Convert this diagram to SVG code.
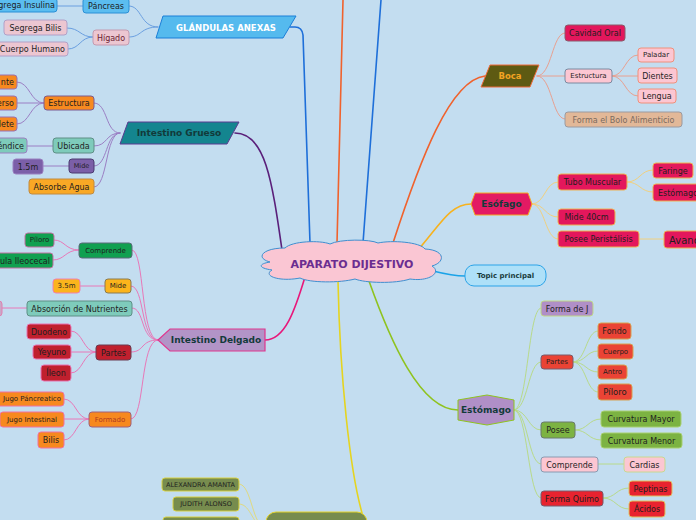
<svg xmlns="http://www.w3.org/2000/svg" width="696" height="520" viewBox="0 0 696 520">
<style>
text{font-family:"DejaVu Sans",Verdana,sans-serif;font-size:8px;fill:#1e1e1e;text-anchor:middle;dominant-baseline:central}
.b{font-weight:bold}
.s{font-size:7px}
.t{font-size:6.5px}
.big{font-size:9px;font-weight:bold;fill:#123a3a}
.main{fill:none;stroke-width:1.6}
.sub{fill:none;stroke-width:1}
rect{stroke-width:1}
</style>
<rect x="0" y="0" width="696" height="520" fill="#c3ddf0"/>

<g id="connectors" stroke-linecap="round">
  <path class="main" stroke="#1e6fd9" d="M310,243 L303,35 Q302,27 295,27 L290,27"/>
  <path class="main" stroke="#f0622d" d="M337,243 L343,0"/>
  <path class="main" stroke="#1e6fd9" d="M363,243 L381,0"/>
  <path class="main" stroke="#f0622d" d="M393,243 C420,160 450,80 485,76"/>
  <path class="main" stroke="#f7b21e" d="M418,250 C440,225 450,204 471,204"/>
  <path class="main" stroke="#1aa3e8" d="M433,271 C445,274 455,276 465,276"/>
  <path class="main" stroke="#8fc31f" d="M369,281 C390,340 420,410 458,410"/>
  <path class="main" stroke="#e5d420" d="M338,281 C340,380 350,470 362,513"/>
  <path class="main" stroke="#e8177a" d="M305,277 C295,310 285,340 265,340"/>
  <path class="main" stroke="#5a1f7a" d="M282,250 C272,180 265,133 235,133"/>

  <g stroke="#6a9fe0">
    <path class="sub" d="M158,27 C140,27 142,6 129,6"/>
    <path class="sub" d="M158,27 C140,27 142,37 129,37"/>
    <path class="sub" d="M83,6 L57,6"/>
    <path class="sub" d="M93,37 C80,37 80,28 67,28"/>
    <path class="sub" d="M93,37 C80,37 80,49 68,49"/>
  </g>
  <g stroke="#9b7fc4">
    <path class="sub" d="M120,133 C105,133 108,103 94,103"/>
    <path class="sub" d="M120,133 C105,133 108,146 94,146"/>
    <path class="sub" d="M120,133 C105,133 108,166 94,166"/>
    <path class="sub" d="M120,133 C105,133 108,187 94,187"/>
    <path class="sub" d="M44,103 C30,103 30,82 17,82"/>
    <path class="sub" d="M44,103 L17,103"/>
    <path class="sub" d="M44,103 C30,103 30,124 17,124"/>
    <path class="sub" d="M53,146 L27,146"/>
    <path class="sub" d="M69,166 L43,166"/>
  </g>
  <g stroke="#e878b8">
    <path class="sub" d="M158,340 C140,340 145,250 132,250"/>
    <path class="sub" d="M158,340 C140,340 145,286 131,286"/>
    <path class="sub" d="M158,340 C140,340 145,308 132,308"/>
    <path class="sub" d="M158,340 C140,340 145,352 131,352"/>
    <path class="sub" d="M158,340 C140,340 145,419 131,419"/>
    <path class="sub" d="M79,250 C65,250 65,240 54,240"/>
    <path class="sub" d="M79,250 C65,250 65,260 53,260"/>
    <path class="sub" d="M105,286 L80,286"/>
    <path class="sub" d="M27,308 L2,308"/>
    <path class="sub" d="M96,352 C83,352 83,331 71,331"/>
    <path class="sub" d="M96,352 L71,352"/>
    <path class="sub" d="M96,352 C83,352 83,373 71,373"/>
    <path class="sub" d="M89,419 C76,419 76,399 64,399"/>
    <path class="sub" d="M89,419 L64,419"/>
    <path class="sub" d="M89,419 C76,419 76,440 64,440"/>
  </g>
  <g stroke="#e8a090">
    <path class="sub" d="M537,76 C552,76 552,33 565,33"/>
    <path class="sub" d="M537,76 L565,76"/>
    <path class="sub" d="M537,76 C552,76 552,119 565,119"/>
    <path class="sub" d="M612,76 C625,76 625,55 638,55"/>
    <path class="sub" d="M612,76 L638,76"/>
    <path class="sub" d="M612,76 C625,76 625,96 638,96"/>
  </g>
  <g stroke="#f0d080">
    <path class="sub" d="M532,204 C545,204 545,182 558,182"/>
    <path class="sub" d="M532,204 C545,204 545,217 558,217"/>
    <path class="sub" d="M532,204 C545,204 545,239 558,239"/>
    <path class="sub" d="M627,182 C640,182 640,170 653,170"/>
    <path class="sub" d="M627,182 C640,182 640,192 653,192"/>
    <path class="sub" d="M639,239 L664,239"/>
  </g>
  <g stroke="#b8da8a">
    <path class="sub" d="M514,410 C528,410 528,308 541,308"/>
    <path class="sub" d="M514,410 C528,410 528,362 541,362"/>
    <path class="sub" d="M514,410 C528,410 528,430 541,430"/>
    <path class="sub" d="M514,410 C528,410 528,464 541,464"/>
    <path class="sub" d="M514,410 C528,410 528,498 541,498"/>
    <path class="sub" d="M573,362 C586,362 586,331 598,331"/>
    <path class="sub" d="M573,362 C586,362 586,351 598,351"/>
    <path class="sub" d="M573,362 C586,362 586,372 598,372"/>
    <path class="sub" d="M573,362 C586,362 586,392 598,392"/>
    <path class="sub" d="M575,430 C588,430 588,419 601,419"/>
    <path class="sub" d="M575,430 C588,430 588,440 601,440"/>
    <path class="sub" d="M598,464 L624,464"/>
    <path class="sub" d="M603,498 C616,498 616,488 629,488"/>
    <path class="sub" d="M603,498 C616,498 616,509 629,509"/>
  </g>
  <g stroke="#e0da80">
    <path class="sub" d="M266,528 C252,528 252,484 239,484"/>
    <path class="sub" d="M266,528 C252,528 252,504 239,504"/>
    <path class="sub" d="M266,528 C252,528 252,524 239,524"/>
  </g>
</g>

<g id="center">
  <path d="M270,262 C255,258 262,248 285,248 C292,241 320,240 330,244 C340,239 370,239 378,243 C392,240 420,242 425,249 C445,250 446,262 432,266 C442,272 430,282 410,279 C395,284 365,283 355,279 C340,283 310,283 300,278 C280,282 262,276 272,270 C258,268 258,264 270,262 Z" fill="#fac6d3" stroke="#3f8fd0" stroke-width="1"/>
  <text x="352" y="264" class="b" style="font-size:11px;fill:#6b2d90">APARATO DIJESTIVO</text>
</g>

<g id="glandulas">
  <polygon points="163,16 296,16 283,38 156,38" fill="#55baee" stroke="#1b7fd8"/>
  <text x="226" y="28" class="b" style="font-size:8.5px;fill:#ffffff">GLÁNDULAS ANEXAS</text>
</g>
<g id="pancreas"><rect x="83" y="-2" width="46" height="15" rx="3" fill="#5bbdf0" stroke="#2a8fd6"/><text x="106" y="6">Páncreas</text></g>
<g id="insulina"><rect x="-10" y="-2" width="67" height="14" rx="3" fill="#5bbdf0" stroke="#2a8fd6"/><text x="55" y="5" style="text-anchor:end">Segrega Insulina</text></g>
<g id="higado"><rect x="93" y="30" width="36" height="15" rx="3" fill="#ecc6d1" stroke="#c39ab0"/><text x="111" y="38" style="fill:#6a1e34">Hígado</text></g>
<g id="bilis1"><rect x="4" y="20" width="63" height="15" rx="3" fill="#ecc6d1" stroke="#b0a0c8"/><text x="35.5" y="28">Segrega Bilis</text></g>
<g id="cuerpoh"><rect x="-6" y="42" width="74" height="14" rx="3" fill="#ecc6d1" stroke="#b0a0c8"/><text x="65" y="49" style="text-anchor:end">Cuerpo Humano</text></g>

<g id="grueso">
  <polygon points="128,122 239,122 227,144 120,144" fill="#14858f" stroke="#5b3a91"/>
  <text x="179" y="133" class="big">Intestino Grueso</text>
</g>
<g id="estructura1"><rect x="44" y="96" width="50" height="14" rx="3" fill="#f7891f" stroke="#7a5a90"/><text x="69" y="103">Estructura</text></g>
<g id="g-nte"><rect x="-20" y="75" width="37" height="14" rx="3" fill="#f7891f" stroke="#9a70b0"/><text x="14" y="82" style="text-anchor:end">nte</text></g>
<g id="g-rso"><rect x="-20" y="96" width="37" height="14" rx="3" fill="#f7891f" stroke="#9a70b0"/><text x="14" y="103" style="text-anchor:end">erso</text></g>
<g id="g-lete"><rect x="-20" y="117" width="37" height="14" rx="3" fill="#f7891f" stroke="#9a70b0"/><text x="14" y="124" style="text-anchor:end">lete</text></g>
<g id="ubicada"><rect x="53" y="138" width="41" height="15" rx="3" fill="#7ecbbb" stroke="#5f8f86"/><text x="73.5" y="146">Ubicada</text></g>
<g id="apendice"><rect x="-20" y="138" width="47" height="15" rx="3" fill="#7ecbbb" stroke="#9a80c0"/><text x="24" y="146" style="text-anchor:end">Apéndice</text></g>
<g id="mide1"><rect x="69" y="159" width="25" height="14" rx="3" fill="#7b5fa8" stroke="#4c3b70"/><text x="81.5" y="166" class="t">Mide</text></g>
<g id="m15"><rect x="13" y="159" width="30" height="15" rx="3" fill="#7b5fa8" stroke="#9a80c0"/><text x="28" y="167">1.5m</text></g>
<g id="agua"><rect x="29" y="179" width="65" height="15" rx="3" fill="#f9a825" stroke="#c08a40"/><text x="61.5" y="187">Absorbe Agua</text></g>

<g id="delgado">
  <polygon points="158,340 170,329 265,329 265,351 170,351" fill="#b294c7" stroke="#e0368e" stroke-width="1.2"/>
  <text x="216" y="340" class="big">Intestino Delgado</text>
</g>
<g id="comprende1"><rect x="79" y="243" width="53" height="15" rx="3" fill="#10a050" stroke="#5a6a7a"/><text x="105.5" y="251" class="s">Comprende</text></g>
<g id="piloro1"><rect x="25" y="233" width="29" height="14" rx="3" fill="#10a050" stroke="#c070a0"/><text x="39.5" y="240" class="s">Píloro</text></g>
<g id="valvula"><rect x="-30" y="253" width="83" height="15" rx="3" fill="#10a050" stroke="#c070a0"/><text x="50" y="261" style="text-anchor:end">Válvula Ileocecal</text></g>
<g id="mide2"><rect x="105" y="279" width="26" height="14" rx="3" fill="#fbb41c" stroke="#8a7a50"/><text x="118" y="286" class="s">Mide</text></g>
<g id="m35"><rect x="53" y="279" width="27" height="14" rx="3" fill="#fbb41c" stroke="#f080b0"/><text x="66.5" y="286" class="s">3.5m</text></g>
<g id="absorcion"><rect x="27" y="301" width="105" height="15" rx="3" fill="#7ecbbb" stroke="#5f8f86"/><text x="79.5" y="309">Absorción de Nutrientes</text></g>
<g id="absorcion-child"><rect x="-40" y="301" width="42" height="15" rx="3" fill="#c9a8c8" stroke="#e080b0"/></g>
<g id="partes1"><rect x="96" y="345" width="35" height="15" rx="3" fill="#c0202e" stroke="#6a3a50"/><text x="113.5" y="353">Partes</text></g>
<g id="duodeno"><rect x="27" y="324" width="44" height="15" rx="3" fill="#c0202e" stroke="#e870b0"/><text x="49" y="332">Duodeno</text></g>
<g id="yeyuno"><rect x="33" y="345" width="38" height="14" rx="3" fill="#c0202e" stroke="#e870b0"/><text x="52" y="352">Yeyuno</text></g>
<g id="ileon"><rect x="41" y="365" width="30" height="16" rx="3" fill="#c0202e" stroke="#e870b0"/><text x="56" y="373">Íleon</text></g>
<g id="formado"><rect x="89" y="412" width="42" height="15" rx="3" fill="#f7891f" stroke="#a0607a"/><text x="110" y="420" class="s" style="fill:#b03a20">Formado</text></g>
<g id="jugop"><rect x="-20" y="392" width="84" height="14" rx="3" fill="#f7891f" stroke="#f070a0"/><text x="61" y="399" class="s" style="text-anchor:end">Jugo Páncreatico</text></g>
<g id="jugoi"><rect x="0" y="412" width="64" height="15" rx="3" fill="#f7891f" stroke="#f070a0"/><text x="32" y="420" class="s">Jugo Intestinal</text></g>
<g id="bilis2"><rect x="38" y="432" width="26" height="16" rx="3" fill="#f7891f" stroke="#f070a0"/><text x="51" y="440">Bilis</text></g>

<g id="boca">
  <polygon points="490,65 539,65 530,87 481,87" fill="#5e5a12" stroke="#ef6a3a"/>
  <text x="510" y="76" class="b" style="font-size:8.5px;fill:#f3a322">Boca</text>
</g>
<g id="cavidad"><rect x="565" y="25" width="60" height="16" rx="3" fill="#e3175c" stroke="#8a5a6a"/><text x="595" y="33">Cavidad Oral</text></g>
<g id="estructura2"><rect x="565" y="69" width="47" height="14" rx="3" fill="#fcc6d2" stroke="#7a8aa0"/><text x="588.5" y="76" class="s">Estructura</text></g>
<g id="paladar"><rect x="638" y="48" width="36" height="14" rx="3" fill="#fcc6d2" stroke="#f0907a"/><text x="656" y="55" class="s">Paladar</text></g>
<g id="dientes"><rect x="638" y="68" width="39" height="15" rx="3" fill="#fcc6d2" stroke="#f0907a"/><text x="657.5" y="76">Dientes</text></g>
<g id="lengua"><rect x="638" y="89" width="38" height="14" rx="3" fill="#fcc6d2" stroke="#f0907a"/><text x="657" y="96">Lengua</text></g>
<g id="bolo"><rect x="565" y="112" width="117" height="15" rx="3" fill="#e2b898" stroke="#9a9aa0"/><text x="623.5" y="120" style="fill:#7a6a5e">Forma el Bolo Alimenticio</text></g>

<g id="esofago">
  <polygon points="471,204 475,193 528,193 532,204 528,215 475,215" fill="#e31a63" stroke="#f7a823"/>
  <text x="501.5" y="204" class="big">Esófago</text>
</g>
<g id="tubo"><rect x="558" y="174" width="69" height="16" rx="3" fill="#e3175c" stroke="#f0b050"/><text x="592.5" y="182">Tubo Muscular</text></g>
<g id="faringe"><rect x="653" y="163" width="40" height="15" rx="3" fill="#e3175c" stroke="#f0b050"/><text x="673" y="171">Faringe</text></g>
<g id="estomago2"><rect x="653" y="184" width="50" height="17" rx="3" fill="#e3175c" stroke="#f0b050"/><text x="658" y="193" style="text-anchor:start">Estómago</text></g>
<g id="mide40"><rect x="558" y="209" width="57" height="16" rx="3" fill="#e3175c" stroke="#f0b050"/><text x="586.5" y="217">Mide 40cm</text></g>
<g id="peristalisis"><rect x="558" y="231" width="81" height="16" rx="3" fill="#e3175c" stroke="#f0b050"/><text x="598.5" y="239">Posee Peristálisis</text></g>
<g id="avance"><rect x="664" y="231" width="50" height="17" rx="3" fill="#e3175c" stroke="#f0b050"/><text x="669" y="240" style="text-anchor:start;font-size:10px">Avance</text></g>

<g id="topic"><rect x="465" y="265" width="81" height="21" rx="9" fill="#aee0f8" stroke="#2aa3e8" stroke-width="1.2"/><text x="505.5" y="275.5" class="b s" style="fill:#173a3a">Topic principal</text></g>

<g id="estomago">
  <polygon points="458,400 487,395 514,400 514,420 487,425 458,420" fill="#b08fc7" stroke="#8fc31f"/>
  <text x="486" y="410" class="big">Estómago</text>
</g>
<g id="formaj"><rect x="541" y="301" width="52" height="15" rx="3" fill="#b08fc7" stroke="#c0d888"/><text x="567" y="309">Forma de J</text></g>
<g id="partes2"><rect x="541" y="355" width="32" height="14" rx="3" fill="#ea4335" stroke="#7a5a6a"/><text x="557" y="362" class="s">Partes</text></g>
<g id="fondo"><rect x="598" y="323" width="33" height="16" rx="3" fill="#ea4335" stroke="#d8a050"/><text x="614.5" y="331">Fondo</text></g>
<g id="cuerpo"><rect x="598" y="344" width="35" height="15" rx="3" fill="#ea4335" stroke="#d8a050"/><text x="615.5" y="352" class="s">Cuerpo</text></g>
<g id="antro"><rect x="598" y="365" width="29" height="14" rx="3" fill="#ea4335" stroke="#d8a050"/><text x="612.5" y="372" class="s">Antro</text></g>
<g id="piloro2"><rect x="598" y="384" width="34" height="16" rx="3" fill="#ea4335" stroke="#d8a050"/><text x="615" y="392" style="font-size:8.5px">Píloro</text></g>
<g id="posee"><rect x="541" y="422" width="34" height="16" rx="3" fill="#7cb342" stroke="#6a7a6a"/><text x="558" y="430">Posee</text></g>
<g id="mayor"><rect x="601" y="411" width="80" height="16" rx="3" fill="#7cb342" stroke="#a8d070"/><text x="641" y="419">Curvatura Mayor</text></g>
<g id="menor"><rect x="601" y="433" width="81" height="15" rx="3" fill="#7cb342" stroke="#a8d070"/><text x="641.5" y="441">Curvatura Menor</text></g>
<g id="comprende2"><rect x="541" y="457" width="57" height="15" rx="3" fill="#fcc6d2" stroke="#8a9ab0"/><text x="569.5" y="465">Comprende</text></g>
<g id="cardias"><rect x="624" y="457" width="41" height="15" rx="3" fill="#fcc6d2" stroke="#c8d890"/><text x="644.5" y="465">Cardias</text></g>
<g id="quimo"><rect x="541" y="491" width="62" height="15" rx="3" fill="#e8232f" stroke="#7a5a6a"/><text x="572" y="499">Forma Quimo</text></g>
<g id="peptinas"><rect x="629" y="481" width="43" height="15" rx="3" fill="#e8232f" stroke="#e0c060"/><text x="650.5" y="489">Peptinas</text></g>
<g id="acidos"><rect x="629" y="501" width="36" height="16" rx="3" fill="#e8232f" stroke="#e0c060"/><text x="647" y="509">Ácidos</text></g>

<g id="bottom"><rect x="266" y="512" width="101" height="30" rx="10" fill="#778c4e" stroke="#e5d42a" stroke-width="1.2"/></g>
<g id="alexandra"><rect x="162" y="478" width="77" height="13" rx="3" fill="#778c4e" stroke="#d8d040"/><text x="200.5" y="484.5" class="t">ALEXANDRA AMANTA</text></g>
<g id="judith"><rect x="173" y="497" width="66" height="14" rx="3" fill="#778c4e" stroke="#d8d040"/><text x="206" y="504" class="t">JUDITH ALONSO</text></g>
<g id="third"><rect x="163" y="517" width="76" height="14" rx="3" fill="#778c4e" stroke="#d8d040"/></g>
</svg>
